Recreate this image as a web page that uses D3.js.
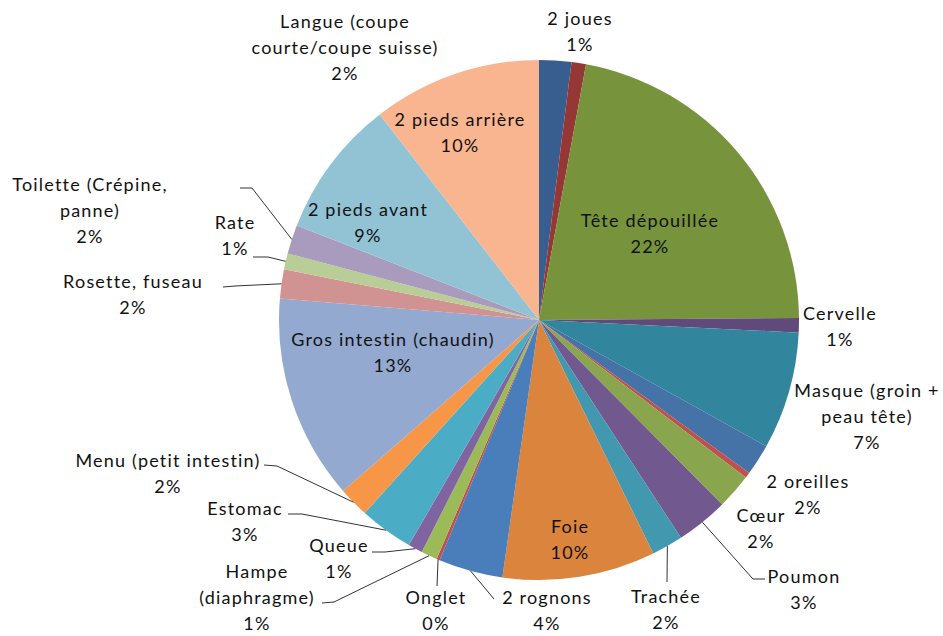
<!DOCTYPE html>
<html>
<head>
<meta charset="utf-8">
<script src="https://cdn.jsdelivr.net/npm/d3@7"></script>
<style>
  body { margin: 0; background: #fff; }
  text { font-family: Lato, "Open Sans", sans-serif; font-size: 18px; letter-spacing: 1.2px; fill: #111; }
  .leader { fill: none; stroke: #333; stroke-width: 1; }
</style>
</head>
<body>
<script>
//slice names, clockwise from 12 o'clock ("\n" = line break in the label)
var names = ["Langue (coupe\ncourte/coupe suisse)", "2 joues", "Tête dépouillée", "Cervelle",
  "Masque (groin +\npeau tête)", "2 oreilles", "", "Cœur", "Poumon", "Trachée", "Foie",
  "2 rognons", "Onglet", "Hampe\n(diaphragme)", "Queue", "Estomac", "Menu (petit intestin)",
  "Gros intestin (chaudin)", "Rosette, fuseau", "Rate", "Toilette (Crépine,\npanne)",
  "2 pieds avant", "2 pieds arrière"];

//share of each slice
var values = [2.0, 0.9, 22.0, 0.9, 7.3, 1.95, 0.35, 2.2, 3.25, 1.95, 9.5,
  4.0, 0.2, 1.0, 0.9, 3.35, 1.9, 12.75, 1.8, 1.0, 1.8, 8.6, 10.5];

//percent shown in the labels
var pctLabels = ["2%", "1%", "22%", "1%", "7%", "2%", "", "2%", "3%", "2%", "10%",
  "4%", "0%", "1%", "1%", "3%", "2%", "13%", "2%", "1%", "2%", "9%", "10%"];

var colors = ["#375e8f", "#953735", "#77933c", "#604a7b", "#31859c", "#4572a7", "#c0504d",
  "#89a54e", "#71588f", "#4198af", "#db843d", "#4a7ebb", "#c0504d", "#9bbb59", "#8064a2",
  "#4bacc6", "#f79646", "#93a9cf", "#d19392", "#b9cd96", "#a99bbd", "#91c3d5", "#f9b590"];

var width = 943, height = 636;
var cx = 539, cy = 320, radius = 260;

//label placement: x = centre of text, y = first baseline, lead = elbow and end of leader line
var layout = {
  0: {x: 345, y: 28}, 1: {x: 580, y: 25}, 2: {x: 650, y: 227}, 3: {x: 840, y: 320},
  4: {x: 867, y: 397}, 5: {x: 808, y: 488}, 7: {x: 761, y: 522},
  8: {x: 804, y: 583, lead: [[753, 579], [765, 579]]},
  9: {x: 666, y: 603, lead: [[667, 582]]},
  10: {x: 570, y: 533},
  11: {x: 547, y: 604, lead: [[494, 599]]},
  12: {x: 436, y: 604, lead: [[437, 586]]},
  13: {x: 257, y: 578, lead: [[334, 602], [322, 603]]},
  14: {x: 339, y: 552, lead: [[385, 552], [372, 552]]},
  15: {x: 245, y: 515, lead: [[302, 514], [288, 514]]},
  16: {x: 168, y: 467, lead: [[277, 466], [264, 465]]},
  17: {x: 393, y: 346},
  18: {x: 133, y: 288, lead: [[235, 286], [223, 287]]},
  19: {x: 235, y: 229, lead: [[268, 257], [253, 257]]},
  20: {x: 90, y: 191, lead: [[252, 188], [240, 188]]},
  21: {x: 368, y: 216},
  22: {x: 460, y: 126}
};
var lineH = 26;

var svg = d3.select("body").append("svg")
  .attr("width", width)
  .attr("height", height);

var pie = d3.pie().sort(null).value(function(d){ return d; });
var arcs = pie(values);

var arc = d3.arc().innerRadius(0).outerRadius(radius);
var edge = d3.arc().innerRadius(radius).outerRadius(radius);

var g = svg.append("g").attr("transform", "translate(" + cx + "," + cy + ")");

g.selectAll(".slice")
  .data(arcs)
  .enter()
  .append("path")
  .attr("class", "slice")
  .attr("d", arc)
  .attr("fill", function(d, i){ return colors[i]; });

//leader lines start on the rim at the slice's mid angle
arcs.forEach(function(d, i){
  var l = layout[i];
  if (!l || !l.lead) return;
  var p = edge.centroid(d);
  var pts = [[cx + p[0], cy + p[1]]].concat(l.lead);
  svg.append("path")
    .attr("class", "leader")
    .attr("d", d3.line()(pts));
});

//labels
names.forEach(function(n, i){
  var l = layout[i];
  if (!l) return;
  var lines = n.split("\n").concat([pctLabels[i]]);
  var t = svg.append("text")
    .attr("text-anchor", "middle");
  lines.forEach(function(s, k){
    t.append("tspan")
      .attr("x", l.x)
      .attr("y", l.y + k * lineH)
      .text(s);
  });
});
</script>
</body>
</html>
